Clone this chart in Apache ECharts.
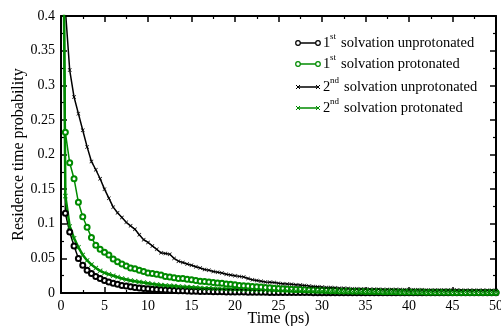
<!DOCTYPE html>
<html>
<head>
<meta charset="utf-8">
<script src="https://cdn.jsdelivr.net/npm/echarts@6/dist/echarts.min.js"></script>
<style>
  html, body { margin: 0; padding: 0; background: #fff; }
  #chart { width: 501px; height: 326px; }
</style>
</head>
<body>
<div id="chart"></div>
<script>
// time axis (ps), sampled every 0.5 ps
const times = [
    0,
    0.5, 1, 1.5, 2, 2.5, 3, 3.5, 4, 4.5, 5,
    5.5, 6, 6.5, 7, 7.5, 8, 8.5, 9, 9.5, 10,
    10.5, 11, 11.5, 12, 12.5, 13, 13.5, 14, 14.5, 15,
    15.5, 16, 16.5, 17, 17.5, 18, 18.5, 19, 19.5, 20,
    20.5, 21, 21.5, 22, 22.5, 23, 23.5, 24, 24.5, 25,
    25.5, 26, 26.5, 27, 27.5, 28, 28.5, 29, 29.5, 30,
    30.5, 31, 31.5, 32, 32.5, 33, 33.5, 34, 34.5, 35,
    35.5, 36, 36.5, 37, 37.5, 38, 38.5, 39, 39.5, 40,
    40.5, 41, 41.5, 42, 42.5, 43, 43.5, 44, 44.5, 45,
    45.5, 46, 46.5, 47, 47.5, 48, 48.5, 49, 49.5, 50
];

const firstUnprot = [
    1.0,
    0.115, 0.088, 0.068, 0.050, 0.040, 0.033, 0.028, 0.024, 0.021, 0.018,
    0.016, 0.014, 0.0125, 0.011, 0.010, 0.009, 0.008, 0.0072, 0.0066, 0.006,
    0.0055, 0.005, 0.0046, 0.0042, 0.0039, 0.0036, 0.0033, 0.0031, 0.0029, 0.0027,
    0.0025, 0.0023, 0.0021, 0.002, 0.0019, 0.0018, 0.0017, 0.0016, 0.0015, 0.0014,
    0.0013, 0.0013, 0.0012, 0.0011, 0.0011, 0.001, 0.001, 0.0009, 0.0009, 0.0008,
    0.0008, 0.0007, 0.0007, 0.0007, 0.0006, 0.0006, 0.0006, 0.0005, 0.0005, 0.0005,
    0.0005, 0.0004, 0.0004, 0.0004, 0.0004, 0.0004, 0.0004, 0.0004, 0.0004, 0.0004,
    0.0003, 0.0003, 0.0003, 0.0003, 0.0003, 0.0003, 0.0003, 0.0003, 0.0003, 0.0003,
    0.0003, 0.0003, 0.0003, 0.0003, 0.0003, 0.0002, 0.0002, 0.0002, 0.0002, 0.0002,
    0.0002, 0.0002, 0.0002, 0.0002, 0.0002, 0.0002, 0.0002, 0.0002, 0.0002, 0.0002
];

const firstProt = [
    1.0,
    0.232, 0.188, 0.165, 0.131, 0.110, 0.095, 0.080, 0.069, 0.063, 0.059,
    0.055, 0.049, 0.045, 0.042, 0.039, 0.036, 0.035, 0.033, 0.031, 0.029,
    0.028, 0.027, 0.026, 0.024, 0.023, 0.022, 0.021, 0.021, 0.020, 0.019,
    0.018, 0.017, 0.0165, 0.016, 0.015, 0.0145, 0.014, 0.013, 0.0125, 0.012,
    0.011, 0.0105, 0.010, 0.0095, 0.009, 0.0085, 0.008, 0.0075, 0.007, 0.0065,
    0.006, 0.0058, 0.0055, 0.0052, 0.005, 0.0047, 0.0045, 0.0042, 0.004, 0.0038,
    0.0036, 0.0034, 0.0032, 0.003, 0.0029, 0.0028, 0.0026, 0.0025, 0.0024, 0.0023,
    0.0022, 0.0021, 0.002, 0.0019, 0.0018, 0.0018, 0.0017, 0.0016, 0.0015, 0.0015,
    0.0014, 0.0013, 0.0013, 0.0012, 0.0012, 0.0011, 0.0011, 0.001, 0.001, 0.0009,
    0.0009, 0.0009, 0.0008, 0.0008, 0.0008, 0.0007, 0.0007, 0.0007, 0.0006, 0.0006
];

const secondUnprot = [
    1.0,
    0.41, 0.322, 0.283, 0.259, 0.235, 0.211, 0.190, 0.178, 0.165, 0.150,
    0.137, 0.124, 0.116, 0.109, 0.102, 0.097, 0.092, 0.084, 0.077, 0.073,
    0.068, 0.063, 0.058, 0.057, 0.056, 0.050, 0.046, 0.044, 0.042, 0.040,
    0.038, 0.036, 0.034, 0.033, 0.031, 0.030, 0.029, 0.027, 0.026, 0.025,
    0.024, 0.023, 0.021, 0.019, 0.018, 0.017, 0.016, 0.0155, 0.015, 0.014,
    0.0135, 0.013, 0.0125, 0.012, 0.0115, 0.011, 0.010, 0.0095, 0.009, 0.0085,
    0.008, 0.0078, 0.0075, 0.007, 0.0068, 0.0065, 0.0062, 0.006, 0.0058, 0.0056,
    0.0055, 0.0054, 0.0053, 0.0052, 0.0051, 0.005, 0.005, 0.0049, 0.0048, 0.0048,
    0.0047, 0.0047, 0.0046, 0.0045, 0.0045, 0.0044, 0.0044, 0.0043, 0.0043, 0.0042,
    0.0042, 0.0041, 0.0041, 0.004, 0.004, 0.0039, 0.0039, 0.0038, 0.0038, 0.0037
];

const secondProt = [
    1.0,
    0.14, 0.096, 0.079, 0.066, 0.055, 0.047, 0.041, 0.036, 0.032, 0.029,
    0.027, 0.025, 0.023, 0.021, 0.0195, 0.018, 0.017, 0.016, 0.015, 0.014,
    0.013, 0.0122, 0.0115, 0.011, 0.0105, 0.010, 0.0095, 0.009, 0.0086, 0.0082,
    0.0078, 0.0074, 0.007, 0.0067, 0.0064, 0.0061, 0.0058, 0.0056, 0.0054, 0.0052,
    0.005, 0.0048, 0.0046, 0.0044, 0.0042, 0.0041, 0.004, 0.0038, 0.0037, 0.0036,
    0.0035, 0.0034, 0.0033, 0.0032, 0.0031, 0.003, 0.0029, 0.0028, 0.0027, 0.0026,
    0.0025, 0.0025, 0.0024, 0.0023, 0.0023, 0.0022, 0.0021, 0.0021, 0.002, 0.002,
    0.0019, 0.0019, 0.0018, 0.0018, 0.0017, 0.0017, 0.0016, 0.0016, 0.0016, 0.0015,
    0.0015, 0.0015, 0.0014, 0.0014, 0.0014, 0.0013, 0.0013, 0.0013, 0.0012, 0.0012,
    0.0012, 0.0012, 0.0011, 0.0011, 0.0011, 0.0011, 0.001, 0.001, 0.001, 0.001
];

const legendMain = ['1', '1', '2', '2'];
const legendSup = ['st', 'st', 'nd', 'nd'];
const legendRest = ['solvation unprotonated', 'solvation protonated', 'solvation unprotonated', 'solvation protonated'];

const GREEN = '#008b00';
const FONT = 'Liberation Serif';
const CROSS = 'path://M0,1.2L1.2,0L5,3.8L8.8,0L10,1.2L6.2,5L10,8.8L8.8,10L5,6.2L1.2,10L0,8.8L3.8,5Z';

const chart = echarts.init(document.getElementById('chart'));

function pairs(vals) {
    return times.map((t, i) => [t, vals[i]]);
}

function axisCommon(showLabel) {
    return {
        axisLine: { show: true, onZero: false, lineStyle: { color: '#000', width: 2 } },
        axisTick: { show: true, inside: true, length: 6, lineStyle: { color: '#000', width: 1.5 } },
        minorTick: { show: true, splitNumber: 2, length: 3, lineStyle: { color: '#000', width: 1.2 } },
        splitLine: { show: false },
        axisLabel: { show: showLabel, color: '#000', fontFamily: FONT, fontSize: 14, margin: 6 }
    };
}

// legend drawn by hand (icons with markers on both ends, superscripts)
const legendY = [43, 64, 87, 108];
const legendColor = ['#000', GREEN, '#000', GREEN];
const graphics = [];
legendY.forEach((y, i) => {
    graphics.push({
        type: 'line', shape: { x1: 298, y1: y, x2: 318, y2: y },
        style: { stroke: legendColor[i], lineWidth: 1.5 }
    });
    [298, 318].forEach(x => {
        if (i < 2) {
            graphics.push({
                type: 'circle', shape: { cx: x, cy: y, r: 2.3 },
                style: { fill: '#fff', stroke: legendColor[i], lineWidth: 1.2 }
            });
        } else {
            graphics.push({
                type: 'polyline', shape: { points: [[x - 2, y - 2], [x + 2, y + 2]] },
                style: { stroke: legendColor[i], lineWidth: 1 }
            });
            graphics.push({
                type: 'polyline', shape: { points: [[x - 2, y + 2], [x + 2, y - 2]] },
                style: { stroke: legendColor[i], lineWidth: 1 }
            });
        }
    });
    graphics.push({
        type: 'text', x: 323, y: y,
        style: { text: legendMain[i], fill: '#000', font: '14.5px "Liberation Serif"', verticalAlign: 'middle' }
    });
    graphics.push({
        type: 'text', x: 330, y: y - 6,
        style: { text: legendSup[i], fill: '#000', font: '9px "Liberation Serif"', verticalAlign: 'middle' }
    });
    graphics.push({
        type: 'text', x: i < 2 ? 341 : 344, y: y,
        style: { text: legendRest[i], fill: '#000', font: '14.5px "Liberation Serif"', verticalAlign: 'middle' }
    });
});

const option = {
    animation: false,
    backgroundColor: '#fff',
    grid: { left: 61, right: 5, top: 16, bottom: 33, outerBoundsMode: 'none', containLabel: false },
    xAxis: [
        Object.assign(axisCommon(true), {
            type: 'value', min: 0, max: 50, interval: 5,
            name: 'Time (ps)', nameLocation: 'middle', nameGap: 18, nameMoveOverlap: false,
            nameTextStyle: { color: '#000', fontFamily: FONT, fontSize: 16 }
        }),
        Object.assign(axisCommon(false), {
            type: 'value', min: 0, max: 50, interval: 5, position: 'top'
        })
    ],
    yAxis: [
        Object.assign(axisCommon(true), {
            type: 'value', min: 0, max: 0.4, interval: 0.05,
            name: 'Residence time probability', nameLocation: 'middle', nameGap: 34, nameMoveOverlap: false,
            nameTextStyle: { color: '#000', fontFamily: FONT, fontSize: 16 }
        }),
        Object.assign(axisCommon(false), {
            type: 'value', min: 0, max: 0.4, interval: 0.05, position: 'right'
        })
    ],
    series: [
        {
            name: '1st solvation unprotonated', type: 'line', data: pairs(firstUnprot),
            symbol: 'emptyCircle', symbolSize: 5, clip: true,
            lineStyle: { color: '#000', width: 1.5 },
            itemStyle: { color: '#000', borderWidth: 1 }
        },
        {
            name: '1st solvation protonated', type: 'line', data: pairs(firstProt),
            symbol: 'emptyCircle', symbolSize: 5, clip: true,
            lineStyle: { color: GREEN, width: 1.5 },
            itemStyle: { color: GREEN, borderWidth: 1 }
        },
        {
            name: '2nd solvation unprotonated', type: 'line', data: pairs(secondUnprot),
            symbol: CROSS, symbolSize: 4, clip: true,
            lineStyle: { color: '#000', width: 1.5 },
            itemStyle: { color: '#000' }
        },
        {
            name: '2nd solvation protonated', type: 'line', data: pairs(secondProt),
            symbol: CROSS, symbolSize: 5, clip: true,
            lineStyle: { color: GREEN, width: 2.5 },
            itemStyle: { color: GREEN }
        }
    ],
    graphic: graphics
};

chart.setOption(option);
</script>
</body>
</html>
